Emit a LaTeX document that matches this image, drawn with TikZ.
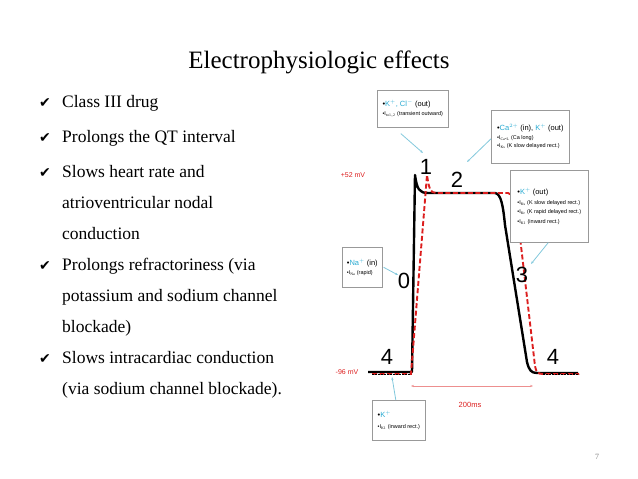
\documentclass[tikz,border=0pt]{standalone}
\usepackage{fontspec}
\setmainfont{Liberation Serif}
\newfontfamily\djfont{DejaVu Sans}
\newfontfamily\lsans{Liberation Sans}
\newcommand\hdf{\lsans\fontsize{7.5}{8.5}\selectfont}
\usetikzlibrary{arrows.meta}
\definecolor{cy}{RGB}{40,170,210}
\definecolor{rd}{RGB}{220,30,30}
\definecolor{lb}{RGB}{130,200,220}
\begin{document}
\begin{tikzpicture}[x=1pt,y=-1pt,
 bul/.style={anchor=base west,inner sep=0pt,font=\fontsize{17.5}{20}\selectfont},
 chk/.style={anchor=base west,inner sep=0pt,font=\djfont\fontsize{14}{17}\selectfont},
 box/.style={draw=gray!80,line width=0.6pt,fill=white,anchor=north west,align=left,inner sep=2pt,font=\lsans\fontsize{5.5}{7.5}\selectfont,minimum height=#1},
 ph/.style={font=\lsans\fontsize{22}{22}\selectfont},
 mv/.style={text=rd,font=\lsans\fontsize{7}{8}\selectfont},
 lead/.style={lb,line width=0.8pt,-{Stealth[length=3pt]}}]
\useasboundingbox (0,0) rectangle (638,479);
\node[font=\fontsize{25}{27}\selectfont] (title) at (319,62) {Electrophysiologic effects};
\foreach \y [count=\i] in {107,142,177,270,363}
 {\node[chk] (c\i) at (39,\y) {✔};}
\node[bul] (b1) at (62,107) {Class III drug};
\node[bul] (b2) at (62,142) {Prolongs the QT interval};
\node[bul] (b3) at (62,177) {Slows heart rate and};
\node[bul] (b3b) at (62,208) {atrioventricular nodal};
\node[bul] (b3c) at (62,239) {conduction};
\node[bul] (b4) at (62,270) {Prolongs refractoriness (via};
\node[bul] (b4b) at (62,301) {potassium and sodium channel};
\node[bul] (b4c) at (62,332) {blockade)};
\node[bul] (b5) at (62,363) {Slows intracardiac conduction};
\node[bul] (b5b) at (62,394) {(via sodium channel blockade).};
\node[text=gray,font=\fontsize{8}{9}\selectfont] (pg) at (597,457) {7};
% curves
\draw[line width=2.4pt,line join=round] (368,372) -- (412,372) -- (415,175) .. controls (417,189) and (419,193) .. (428,193) -- (495,193) .. controls (501,194) and (503,205) .. (505,225) -- (527,362) .. controls (529,370) and (531,373) .. (537,373) -- (578,373);
\draw[rd,line width=1.9pt,dash pattern=on 5pt off 2.5pt] (372,374) -- (411,374) -- (427,175) .. controls (429,188) and (430,193) .. (436,193) -- (508,193) .. controls (514,194) and (516,203) .. (518,220) -- (535,366) .. controls (536,372) and (538,374) .. (543,374) -- (579,374);
\draw[black,line width=0.6pt,dash pattern=on 2pt off 1pt] (372,374) -- (411,374) (543,374) -- (579,374);
\node[ph] (p1) at (426,167) {1};
\node[ph] (p2) at (457,180) {2};
\node[ph] (p0) at (404,281) {0};
\node[ph] (p3) at (522,275) {3};
\node[ph] (p4a) at (387,357) {4};
\node[ph] (p4b) at (553,357) {4};
\node[mv] (mv1) at (353,175) {+52 mV};
\node[mv] (mv2) at (347,372) {-96 mV};
\coordinate (ta) at (411,386); \coordinate (tb) at (533,386);
\draw[rd!50,line width=0.7pt,{Stealth[length=3pt]}-{Stealth[length=3pt]}] (ta) -- (tb);
\node[mv,font=\lsans\fontsize{7.5}{8}\selectfont] (ms) at (470,405) {200ms};
% boxes
\node[box=37pt,minimum width=71pt] (B1) at (377,90) {{\hdf\textbullet\textcolor{cy}{K$^+$, Cl$^-$} (out)}\\[1pt] \textbullet I$_{\mathrm{to1,2}}$ (transient outward)};
\node[box=53pt,minimum width=78pt] (B2) at (491,110) {{\hdf\textbullet\textcolor{cy}{Ca$^{2+}$} (in), \textcolor{cy}{K$^+$} (out)}\\[1pt] \textbullet I$_{\mathrm{Ca\mbox{-}L}}$ (Ca long)\\[1pt] \textbullet I$_{\mathrm{Ks}}$ (K slow delayed rect.)};
\node[box=72pt,minimum width=78pt] (B3) at (510,170) {{\hdf\textbullet\textcolor{cy}{K$^+$} (out)}\\[2pt] \textbullet I$_{\mathrm{Ks}}$ (K slow delayed rect.)\\[2pt] \textbullet I$_{\mathrm{Kr}}$ (K rapid delayed rect.)\\[2pt] \textbullet I$_{\mathrm{K1}}$ (inward rect.)};
\node[box=40pt,minimum width=40pt] (B4) at (342,247) {{\hdf\textbullet\textcolor{cy}{Na$^+$} (in)}\\[2pt] \textbullet I$_{\mathrm{Na}}$ (rapid)};
\node[box=40pt,minimum width=53pt] (B5) at (372,400) {{\hdf\textbullet\textcolor{cy}{K$^+$}}\\[3pt] \textbullet I$_{\mathrm{K1}}$ (inward rect.)};
\coordinate (e1) at (423,153); \coordinate (e2) at (467,162); \coordinate (e3) at (531,264);
\coordinate (e4) at (398,275); \coordinate (e5) at (392,377);
\draw[lead] (B1.south) ++(-12,6) -- (e1);
\draw[lead] (B2.west) ++(0,2) -- (e2);
\draw[lead] (B3.south) ++(-1,0) -- (e3);
\draw[lead] (B4.east) ++(1,0) -- (e4);
\draw[lead] (B5.north) ++(-3,0) -- (e5);
\end{tikzpicture}
\end{document}
